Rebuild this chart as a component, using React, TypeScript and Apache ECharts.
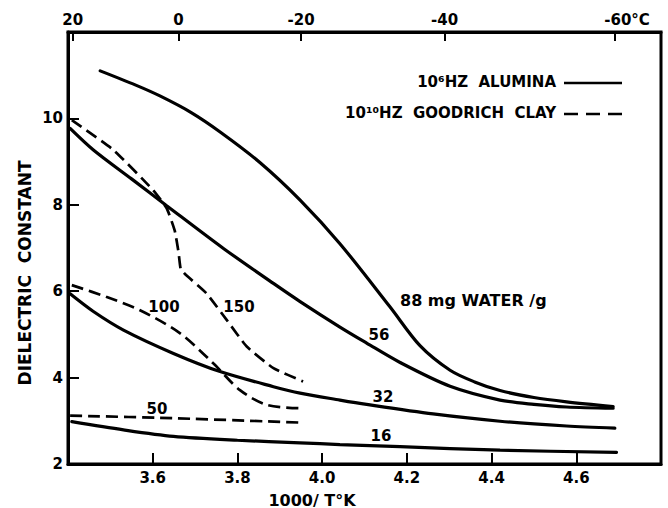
import React, { useEffect, useRef } from 'react';
import * as echarts from 'echarts';

// Axis ticks
const xTicks = [3.6, 3.8, 4.0, 4.2, 4.4, 4.6];
const yTicks = [2, 4, 6, 8, 10];
const celsiusTicks = [20, 0, -20, -40, -60];

// 10^6 Hz alumina (solid), [1000/T°K, dielectric constant]
const alumina88 = [[3.476, 11.10], [3.560, 10.77], [3.617, 10.52], [3.690, 10.14], [3.760, 9.68], [3.853, 8.98], [3.948, 8.11], [4.042, 7.10], [4.160, 5.64], [4.231, 4.74], [4.302, 4.17], [4.360, 3.90], [4.420, 3.70], [4.500, 3.54], [4.577, 3.44], [4.687, 3.33]];
const alumina56 = [[3.405, 9.77], [3.460, 9.27], [3.550, 8.60], [3.633, 7.98], [3.767, 6.99], [3.885, 6.18], [3.948, 5.76], [4.042, 5.17], [4.105, 4.80], [4.184, 4.35], [4.302, 3.80], [4.420, 3.48], [4.500, 3.38], [4.577, 3.32], [4.687, 3.29]];
const alumina32 = [[3.405, 5.94], [3.460, 5.53], [3.531, 5.10], [3.649, 4.56], [3.759, 4.14], [3.885, 3.79], [3.948, 3.64], [4.042, 3.48], [4.105, 3.38], [4.262, 3.16], [4.420, 2.99], [4.577, 2.88], [4.691, 2.83]];
const alumina16 = [[3.409, 2.98], [3.531, 2.79], [3.649, 2.64], [3.800, 2.55], [3.948, 2.49], [4.042, 2.45], [4.184, 2.40], [4.420, 2.32], [4.695, 2.27]];

// 10^10 Hz Goodrich clay (dashed)
const clay150 = [[3.409, 9.96], [3.507, 9.27], [3.601, 8.34], [3.633, 7.92], [3.652, 7.40], [3.661, 6.90], [3.666, 6.52], [3.678, 6.38], [3.727, 5.95], [3.775, 5.33], [3.822, 4.72], [3.885, 4.22], [3.955, 3.91]];
const clay100 = [[3.409, 6.14], [3.490, 5.87], [3.570, 5.56], [3.664, 5.03], [3.743, 4.33], [3.806, 3.71], [3.869, 3.37], [3.948, 3.29]];
const clay50 = [[3.405, 3.12], [3.649, 3.06], [3.944, 2.96]];

const curveLabels = ['88 mg WATER /g', '56', '32', '16', '100', '150', '50'];
const legendTexts = ['10⁶HZ  ALUMINA', '10¹⁰HZ  GOODRICH  CLAY'];

const FONT = '"DejaVu Sans", "Liberation Sans", sans-serif';

export default function App() {
  const ref = useRef<HTMLDivElement>(null);
  useEffect(() => {
    if (!ref.current) return;
    const chart = echarts.init(ref.current, null, { renderer: 'svg' });
    const solid = (name: string, data: number[][]) => ({
      name, type: 'line', data, smooth: 0.3, showSymbol: false, silent: true,
      lineStyle: { color: '#000', width: 3.2, cap: 'round' },
    });
    const dashed = (name: string, data: number[][], smooth = 0.3) => ({
      name, type: 'line', data, smooth, showSymbol: false, silent: true,
      lineStyle: { color: '#000', width: 2.7, type: [12, 6] },
    });
    const celsiusVals = celsiusTicks.map((c) => 1000 / (273.15 + c));
    const lbl = { fontFamily: FONT, fontWeight: 'bold', fontSize: 15, color: '#000' };
    const txt = (text: string, x: number, y: number, align = 'center', size = 13, rotation = 0) => ({
      type: 'text', x, y, rotation,
      style: {
        text, fill: '#000', font: `bold ${size}px ${FONT}`,
        textAlign: align, textVerticalAlign: 'middle', align, verticalAlign: 'middle',
      },
    });
    chart.setOption({
      animation: false,
      grid: { left: 68, right: 7, top: 32, bottom: 44, show: true, borderColor: '#000', borderWidth: 3 },
      xAxis: [
        {
          type: 'value', min: 3.4, max: 4.8, position: 'bottom',
          axisLine: { lineStyle: { color: '#000', width: 3 } },
          axisTick: { inside: true, length: 11, lineStyle: { color: '#000', width: 2 }, customValues: xTicks },
          axisLabel: { ...lbl, margin: 6, customValues: xTicks, formatter: (v: number) => v.toFixed(1) },
          splitLine: { show: false },
        },
        {
          type: 'value', min: 3.4, max: 4.8, position: 'top',
          axisLine: { lineStyle: { color: '#000', width: 3 } },
          axisTick: { inside: true, length: 9, lineStyle: { color: '#000', width: 2 }, customValues: celsiusVals },
          axisLabel: {
            ...lbl, margin: 5, customValues: celsiusVals,
            formatter: (v: number) => {
              const c = Math.round(1000 / v - 273.15);
              return c === -60 ? '{u|-60°C}' : String(c);
            },
            rich: { u: { fontFamily: FONT, fontWeight: 'bold', fontSize: 15, color: '#000', padding: [0, 0, 0, 24] } },
          },
          splitLine: { show: false },
        },
      ],
      yAxis: {
        type: 'value', min: 2, max: 12,
        axisLine: { lineStyle: { color: '#000', width: 3 } },
        axisTick: { inside: true, length: 11, lineStyle: { color: '#000', width: 2 }, customValues: yTicks },
        axisLabel: { ...lbl, fontSize: 15, margin: 5, customValues: yTicks },
        splitLine: { show: false },
      },
      series: [
        solid('88', alumina88),
        solid('56', alumina56),
        solid('32', alumina32),
        solid('16', alumina16),
        dashed('150', clay150, 0.15),
        dashed('100', clay100),
        dashed('50', clay50),
      ],
      graphic: [
        txt('DIELECTRIC  CONSTANT', 25, 273, 'center', 17, Math.PI / 2),
        txt('1000/ T°K', 312, 500, 'center', 16),
        txt(legendTexts[0], 556, 82, 'right', 15),
        txt(legendTexts[1], 556, 113, 'right', 15),
        { type: 'line', shape: { x1: 564, y1: 83, x2: 622, y2: 83 }, style: { stroke: '#000', lineWidth: 2.6 } },
        { type: 'line', shape: { x1: 564, y1: 114, x2: 622, y2: 114 }, style: { stroke: '#000', lineWidth: 2.6, lineDash: [14, 8] } },
        txt(curveLabels[0], 400, 300, 'left', 16),
        txt(curveLabels[1], 379, 335, 'center', 15),
        txt(curveLabels[2], 383, 397, 'center', 15),
        txt(curveLabels[3], 381, 436, 'center', 15),
        txt(curveLabels[4], 164, 307, 'center', 15),
        txt(curveLabels[5], 239, 307, 'center', 15),
        txt(curveLabels[6], 157, 409, 'center', 15),
      ],
    });
    return () => chart.dispose();
  }, []);
  return <div ref={ref} style={{ position: 'fixed', left: 0, top: 0, width: 668, height: 508, background: '#fff' }} />;
}
